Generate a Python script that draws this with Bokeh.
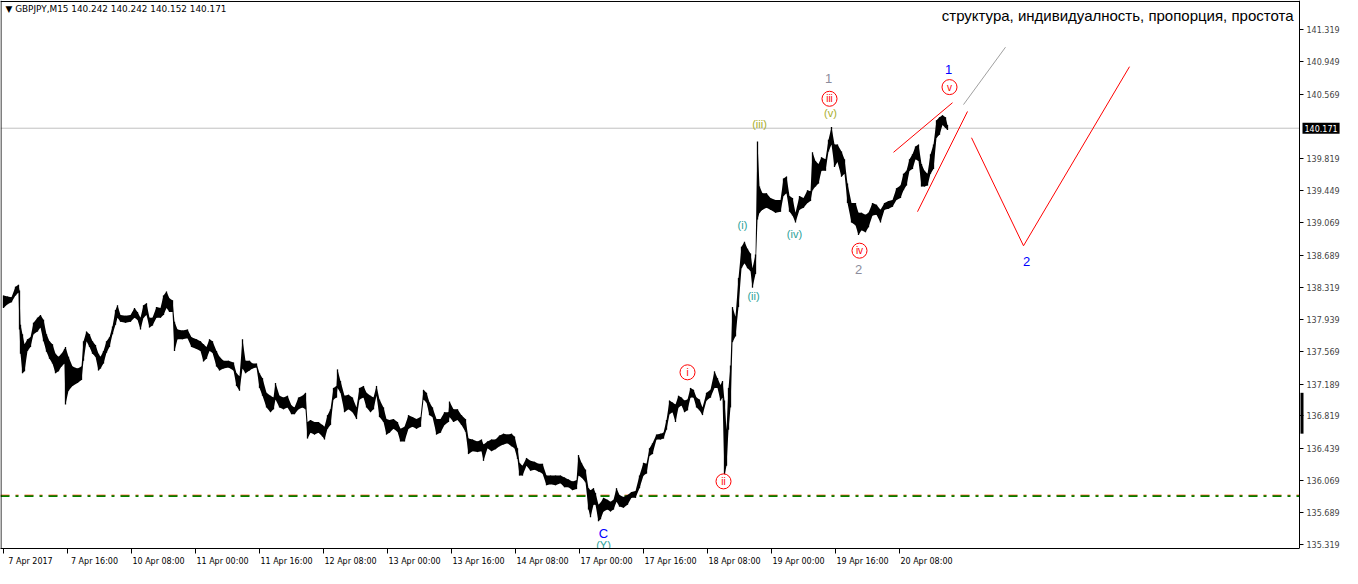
from bokeh.plotting import figure
from bokeh.models import Range1d, LinearAxis, FixedTicker, Label, Span, BoxAnnotation, CustomJSTickFormatter
from bokeh.core.properties import value
from bokeh.embed import file_html
from bokeh.resources import INLINE

# ---- price readings (bar index, high, low) ----
bar = [0, 4, 8, 12, 15, 16, 17, 19, 21, 24, 27, 30, 34, 37, 40, 43, 46, 49, 52, 55, 58, 61, 62, 65, 69, 74, 78, 80, 83, 86, 89, 92, 95, 97, 100, 103, 106, 109, 112, 114, 117, 122, 127, 131, 134, 137, 140, 143, 146, 149, 153, 157, 160, 163, 166, 169, 171, 174, 179, 184, 188, 193, 197, 200, 203, 206, 209, 213, 216, 220, 225, 230, 233, 236, 239, 242, 246,
       249, 253, 256, 259, 263, 267, 270, 272, 276, 280, 284, 288, 291, 295, 299, 302, 304, 307, 311, 315, 319, 321, 324, 327, 330, 333, 334, 337, 341, 345, 349, 353, 356, 360, 363, 367, 370, 373, 376, 380, 383, 386, 390, 394, 397, 401, 405, 409, 413, 417, 420, 423, 426, 429, 433, 437, 441, 445, 446, 450, 454, 458, 462, 465, 469, 474, 478, 480,
       484, 488, 492, 496, 500, 504, 508, 511, 514, 516, 519, 523, 527, 531, 535, 539, 543, 547, 552, 557, 561, 565, 569, 573, 575, 578, 582, 585, 587, 590, 592, 595, 597, 600, 604, 607, 610, 613, 616, 620, 624, 628, 632, 636, 640, 643, 646, 649, 653, 657, 660, 663, 666, 669, 672, 675, 678, 681, 684, 687, 690, 693, 696, 699, 703, 707, 711, 714, 717, 719, 721, 723, 725, 727, 729, 732, 735, 738, 741, 744, 747, 749, 752, 754, 756, 759, 763, 767, 772, 777, 780, 783, 786, 789, 792, 796, 800, 804, 807, 809, 812, 815, 818, 822, 825, 828, 831, 834, 838, 841, 844, 848, 852, 855, 858, 862, 865, 869, 873, 877, 881, 885, 889, 893, 897, 900, 903, 906, 909, 912, 915, 918, 921, 924, 927, 930, 933, 936, 939, 942, 944]
high = [138.222, 138.211, 138.200, 138.325, 138.348, 138.279, 137.882, 137.769, 137.655, 137.712, 137.735, 137.905, 137.962, 137.996, 137.939, 137.769, 137.689, 137.655, 137.542, 137.508, 137.542, 137.599, 137.621, 137.508, 137.395, 137.372, 137.395, 137.689, 137.803, 137.769, 137.689, 137.644, 137.542, 137.508, 137.576, 137.689, 137.735, 137.860, 138.053, 138.109, 137.996, 137.985, 137.996, 138.075, 138.030, 137.962, 138.109, 138.132, 137.962, 137.962, 138.087, 138.075, 138.222, 138.268, 138.188, 138.166, 137.916, 137.826, 137.814, 137.826, 137.735, 137.712, 137.689, 137.655, 137.621, 137.712, 137.689, 137.576, 137.508, 137.463, 137.463, 137.440, 137.315, 137.281, 137.712, 137.463, 137.463,
        137.429, 137.429, 137.315, 137.259, 137.088, 137.054, 137.032, 137.202, 137.054, 137.032, 137.054, 136.941, 136.918, 137.032, 137.054, 137.088, 136.748, 136.771, 136.748, 136.748, 136.714, 136.692, 136.828, 136.896, 137.145, 137.168, 137.361, 137.225, 137.054, 137.066, 137.032, 136.918, 137.145, 137.168, 137.088, 137.054, 137.032, 137.168, 137.009, 136.918, 136.782, 136.771, 136.782, 136.748, 136.669, 136.692, 136.828, 136.805, 136.782, 136.805, 137.123, 137.088, 136.975, 136.918, 136.782, 136.782, 136.862, 136.862, 136.986, 136.896, 136.896, 136.828, 136.782, 136.555, 136.544, 136.522, 136.544, 136.487,
        136.522, 136.544, 136.544, 136.590, 136.612, 136.601, 136.612, 136.578, 136.442, 136.272, 136.238, 136.329, 136.295, 136.284, 136.261, 136.261, 136.124, 136.124, 136.124, 136.124, 136.102, 136.079, 136.056, 136.068, 136.363, 136.272, 136.193, 135.977, 135.954, 135.977, 135.920, 135.784, 135.807, 135.864, 135.841, 135.818, 135.841, 135.977, 135.898, 135.875, 135.898, 135.932, 135.943, 136.124, 136.272, 136.261, 136.442, 136.499, 136.601, 136.612, 136.624, 136.771, 136.998, 136.975, 136.952, 137.054, 137.032, 136.998, 137.009, 137.145, 137.123, 137.032, 137.009, 136.918, 137.088, 137.123, 137.338, 137.259, 137.179, 137.225, 136.998, 136.658, 137.145, 137.406, 138.087, 137.973, 138.427, 138.790, 138.847, 138.767, 138.711, 138.540, 138.699, 140.015, 139.493, 139.414, 139.414, 139.357, 139.334, 139.334, 139.584, 139.607, 139.380, 139.357, 139.187, 139.380, 139.357, 139.448, 139.437, 139.890, 139.788, 139.754, 139.833, 139.810, 140.037, 140.185, 139.981, 139.981, 139.901, 139.810, 139.527, 139.300, 139.300, 139.187, 139.187, 139.164, 139.187, 139.300, 139.278, 139.221, 139.300, 139.323, 139.334, 139.470, 139.504, 139.640, 139.674, 139.810, 139.867, 139.958, 139.981, 139.754, 139.674, 139.640, 139.867, 139.981, 140.264, 140.299, 140.321, 140.299, 140.208]
low = [138.075, 138.121, 138.143, 138.222, 138.256, 137.826, 137.542, 137.315, 137.338, 137.576, 137.621, 137.769, 137.803, 137.848, 137.689, 137.565, 137.486, 137.429, 137.315, 137.338, 137.395, 137.429, 136.952, 137.111, 137.168, 137.202, 137.236, 137.463, 137.689, 137.621, 137.542, 137.508, 137.349, 137.372, 137.429, 137.554, 137.621, 137.769, 137.882, 137.962, 137.916, 137.905, 137.916, 137.962, 137.939, 137.826, 137.962, 137.996, 137.848, 137.871, 137.962, 137.962, 137.996, 138.075, 138.030, 138.030, 137.576, 137.712, 137.712, 137.723, 137.621, 137.599, 137.576, 137.452, 137.486, 137.576, 137.554, 137.395, 137.349, 137.372, 137.383, 137.349, 137.168, 137.111, 137.372, 137.315, 137.349,
       137.372, 137.383, 137.145, 137.054, 136.918, 136.862, 136.896, 137.009, 136.918, 136.896, 136.918, 136.839, 136.839, 136.896, 136.918, 136.896, 136.555, 136.624, 136.601, 136.624, 136.578, 136.544, 136.669, 136.714, 137.009, 137.032, 137.145, 137.088, 136.862, 136.896, 136.862, 136.782, 137.009, 137.032, 136.918, 136.862, 136.896, 137.054, 136.805, 136.748, 136.601, 136.624, 136.669, 136.635, 136.522, 136.522, 136.669, 136.692, 136.669, 136.692, 137.009, 136.975, 136.828, 136.805, 136.601, 136.624, 136.714, 136.748, 136.805, 136.748, 136.771, 136.714, 136.635, 136.374, 136.408, 136.397, 136.408, 136.295,
       136.442, 136.408, 136.431, 136.465, 136.487, 136.499, 136.465, 136.442, 136.318, 136.124, 136.124, 136.238, 136.181, 136.193, 136.170, 136.147, 136.011, 136.022, 136.011, 136.034, 135.988, 135.988, 135.954, 135.966, 136.124, 136.102, 136.045, 135.728, 135.637, 135.784, 135.784, 135.591, 135.614, 135.705, 135.728, 135.705, 135.728, 135.818, 135.762, 135.750, 135.784, 135.864, 135.864, 135.977, 136.124, 136.147, 136.351, 136.374, 136.544, 136.544, 136.555, 136.658, 136.839, 136.862, 136.748, 136.918, 136.941, 136.862, 136.884, 137.032, 137.032, 136.918, 136.884, 136.828, 136.998, 137.032, 137.145, 137.145, 136.998, 137.032, 136.124, 136.238, 136.658, 136.918, 137.678, 137.746, 138.087, 138.540, 138.597, 138.540, 138.506, 138.313, 138.472, 139.108, 139.187, 139.221, 139.244, 139.221, 139.187, 139.198, 139.380, 139.414, 139.198, 139.153, 139.073, 139.221, 139.244, 139.300, 139.323, 139.448, 139.493, 139.527, 139.674, 139.674, 139.901, 139.981, 139.720, 139.776, 139.606, 139.640, 139.300, 139.073, 139.039, 138.926, 138.983, 138.960, 139.016, 139.153, 139.164, 139.073, 139.221, 139.232, 139.255, 139.334, 139.357, 139.448, 139.504, 139.674, 139.697, 139.810, 139.788, 139.493, 139.493, 139.504, 139.640, 139.697, 140.060, 140.094, 140.208, 140.174, 140.151]

# ---- axes ----
x_tick_bars = [0, 64, 128, 192, 256, 320, 384, 448, 512, 576, 640, 704, 768, 832, 896]
x_tick_labels = ["7 Apr 2017", "7 Apr 16:00", "10 Apr 08:00", "11 Apr 00:00", "11 Apr 16:00",
                 "12 Apr 08:00", "13 Apr 00:00", "13 Apr 16:00", "14 Apr 08:00", "17 Apr 00:00",
                 "17 Apr 16:00", "18 Apr 08:00", "19 Apr 00:00", "19 Apr 16:00", "20 Apr 08:00"]
y_ticks = [141.319, 140.949, 140.569, 139.819, 139.449, 139.069, 138.689, 138.319, 137.939,
           137.569, 137.189, 136.819, 136.439, 136.069, 135.689, 135.319]
last_price = 140.171
support_level = 135.886
marker_top, marker_bottom = 137.088, 136.612   # dark marker on the price scale

# ---- wave annotations ----
minor_text = ["(i)", "(ii)", "(iii)", "(iv)", "(v)"]
minor_bar = [739, 750, 756, 791, 827]
minor_price = [139.039, 138.211, 140.219, 138.937, 140.344]
minor_color = ["#2AA198", "#2AA198", "#A8AE2A", "#2AA198", "#A8AE2A"]

circ_text = ["i", "ii", "iii", "iv", "v"]
circ_bar = [684, 720, 826, 856, 946]
circ_price = [137.327, 136.056, 140.514, 138.744, 140.650]

gray_text = ["1", "2"]
gray_bar = [825, 855]
gray_price = [140.752, 138.529]

blue_text = ["1", "2", "C"]
blue_bar = [945, 1023, 600]
blue_price = [140.854, 138.620, 135.444]

wedge_up_bar = [890, 949]
wedge_up_price = [139.890, 140.468]
wedge_lo_bar = [914, 964]
wedge_lo_price = [139.198, 140.366]
gray_line_bar = [960, 1002]
gray_line_price = [140.446, 141.115]
zig_bar = [968, 1020, 1126]
zig_price = [140.060, 138.801, 140.888]

FONT = "DejaVu Sans"
W, H = 1342, 568
BOTTOM = 16
X0 = -3
X_END = X0 + W            # one pixel per bar
AXIS_BAR = 1296           # where the price scale sits
Y0, Y1 = 135.274, 141.659
PX = (Y1 - Y0) / (H - BOTTOM)

p = figure(width=W, height=H, output_backend="svg", toolbar_location=None,
           x_axis_location=None, y_axis_location=None,
           x_range=Range1d(X0, X_END), y_range=Range1d(Y0, Y1),
           min_border_left=0, min_border_top=0, min_border_right=0, min_border_bottom=BOTTOM)
p.background_fill_color = "white"
p.border_fill_color = "white"
p.outline_line_color = None
p.xgrid.visible = False
p.ygrid.visible = False

# bottom axis: tick marks (minor ticks at the bar times) with labels to their right
label_pos = [t + 27 for t in x_tick_bars]
ax = LinearAxis(ticker=FixedTicker(ticks=label_pos, minor_ticks=x_tick_bars), bounds=(X0, AXIS_BAR))
ax.major_label_overrides = {pos: lab for pos, lab in zip(label_pos, x_tick_labels)}
ax.axis_line_color = "black"
ax.major_tick_out = 0
ax.major_tick_in = 0
ax.minor_tick_out = 5
ax.minor_tick_in = 0
ax.minor_tick_line_color = "black"
ax.major_label_standoff = 3
ax.major_label_text_font = FONT
ax.major_label_text_font_size = "8px"
ax.major_label_text_color = "black"
p.add_layout(ax, "below")

# price scale drawn at a fixed place inside the frame
ay = LinearAxis(ticker=FixedTicker(ticks=y_ticks), fixed_location=AXIS_BAR)
ay.formatter = CustomJSTickFormatter(code="return tick.toFixed(3);")
ay.major_tick_out = 4
ay.major_tick_in = 0
ay.minor_tick_out = 0
ay.minor_tick_in = 0
ay.major_label_standoff = 3
ay.major_label_text_font = FONT
ay.major_label_text_font_size = "8px"
ay.axis_line_color = "black"
p.add_layout(ay, "right")

# chart borders (left and top)
p.add_layout(Span(location=X0 + 0.5, dimension="height", line_color="black", line_width=1))
p.line([X0, AXIS_BAR], [Y1 - PX, Y1 - PX], line_color="black", line_width=1)

# horizontal lines
p.line([X0, AXIS_BAR], [last_price, last_price], line_color="#C0C0C0", line_width=1)
p.line([X0, AXIS_BAR], [support_level, support_level], line_color="#008000", line_width=2,
       line_dash="9 6 3 6")
p.line([X0, AXIS_BAR], [support_level + PX, support_level + PX], line_color="#FF4500", line_width=1,
       line_dash="9 6 3 6", line_alpha=0.6)

# price series
p.varea(x=bar, y1=low, y2=high, fill_color="black")
p.segment(x0=bar, y0=low, x1=bar, y1=high, line_color="black", line_width=1.3)

# trend lines
p.line(wedge_up_bar, wedge_up_price, line_color="red", line_width=1)
p.line(wedge_lo_bar, wedge_lo_price, line_color="red", line_width=1)
p.line(gray_line_bar, gray_line_price, line_color="#A0A0A0", line_width=1)
p.line(zig_bar, zig_price, line_color="red", line_width=1)

# wave labels
p.text(x=minor_bar, y=minor_price, text=minor_text, text_color=minor_color,
       text_font=value("Liberation Sans"), text_font_size="11px", text_align="center", text_baseline="middle")
p.scatter(x=circ_bar, y=circ_price, marker="circle", size=15, fill_color="white",
          line_color="red", line_width=1)
p.text(x=circ_bar, y=circ_price, text=circ_text, text_color="red",
       text_font=value("Liberation Sans"), text_font_size="10px", text_align="center", text_baseline="middle")
p.text(x=gray_bar, y=gray_price, text=gray_text, text_color="#8C8C9C",
       text_font=value("Liberation Sans"), text_font_size="13px", text_align="center", text_baseline="middle")
p.text(x=blue_bar, y=blue_price, text=blue_text, text_color="#0000FF",
       text_font=value("Liberation Sans"), text_font_size="13px", text_align="center", text_baseline="middle")
p.text(x=[600], y=[135.319], text=["(Y)"], text_color="#2AA198",
       text_font=value("Liberation Sans"), text_font_size="11px", text_align="center", text_baseline="middle")

# header texts
p.add_layout(Label(x=2, y=141.557, text="\u25bc GBPJPY,M15  140.242 140.242 140.152 140.171",
                   text_font=FONT, text_font_size="8.9px", text_baseline="middle", text_color="black"))
p.add_layout(Label(x=1290, y=141.489, text="структура, индивидуалность, пропорция, простота",
                   text_font="Liberation Sans", text_font_size="15px", text_align="right",
                   text_baseline="middle", text_color="black"))

# last price box on the price scale
p.add_layout(Label(x=AXIS_BAR, y=last_price, x_offset=3, text="140.171", text_font=FONT,
                   text_font_size="8px", text_color="white", text_baseline="middle",
                   background_fill_color="black", padding=2))
# dark marker on the price scale
p.add_layout(BoxAnnotation(left=AXIS_BAR + 1, right=AXIS_BAR + 4, bottom=marker_bottom, top=marker_top,
                           fill_color="black", fill_alpha=1, line_color=None))

open("out.html", "w").write(file_html(p, INLINE))
